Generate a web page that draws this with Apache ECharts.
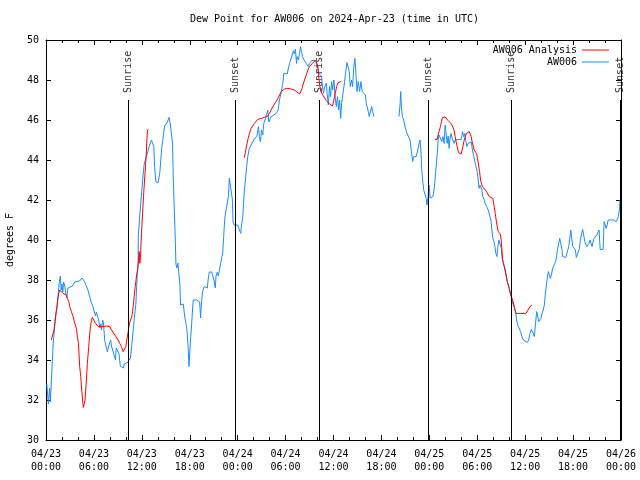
<!DOCTYPE html>
<html><head><meta charset="utf-8">
<script src="https://cdn.jsdelivr.net/npm/echarts@6/dist/echarts.min.js"></script>
<style>html,body{margin:0;padding:0;background:#fff}#c{width:640px;height:480px}</style>
</head><body><div id="c"></div>
<script>
const titleText = 'Dew Point for AW006 on 2024-Apr-23 (time in UTC)';
const yAxisName = 'degrees F';
const xTickLabels = ['04/23\n00:00','04/23\n06:00','04/23\n12:00','04/23\n18:00','04/24\n00:00','04/24\n06:00','04/24\n12:00','04/24\n18:00','04/25\n00:00','04/25\n06:00','04/25\n12:00','04/25\n18:00','04/26\n00:00'];
const seriesNames = ['AW006 Analysis', 'AW006'];
// hours since 04/23 00:00 UTC ; null = missing
const blueTimes = [0.10,0.30,0.45,0.55,0.70,0.80,0.90,1.05,1.20,1.40,1.55,1.70,1.80,1.90,2.00,2.10,2.20,2.35,2.50,2.60,2.75,3.00,3.30,3.60,4.20,4.50,4.65,4.85,5.05,5.25,5.45,5.65,5.85,6.05,6.20,6.30,6.50,6.60,6.75,6.85,6.95,7.10,7.20,7.35,7.50,7.70,7.85,7.95,8.10,8.20,8.35,8.55,8.70,8.80,9.00,9.15,9.30,9.50,9.70,9.80,9.95,10.29,10.58,10.83,11.04,11.25,11.42,11.54,11.56,11.75,11.96,12.17,12.30,12.50,12.67,12.92,13.20,13.30,13.50,13.60,13.76,14.05,14.26,14.47,14.68,14.85,15.10,15.20,15.40,15.56,15.77,15.85,15.93,16.06,16.19,16.27,16.40,16.52,16.69,16.77,16.85,17.02,17.19,17.30,17.44,17.60,17.69,17.82,17.90,17.98,18.10,18.23,18.36,18.44,18.65,18.86,19.07,19.24,19.36,19.45,19.60,19.80,20.04,20.20,20.30,20.45,20.75,20.95,21.04,21.20,21.29,21.46,21.58,21.70,21.87,22.04,22.12,22.25,22.33,22.42,22.62,22.84,22.96,23.17,23.34,23.42,23.55,23.80,24.00,24.20,24.38,24.50,24.63,24.84,24.97,25.13,25.26,25.47,25.68,25.89,26.10,26.40,26.60,26.72,26.85,26.98,27.14,27.27,27.48,27.64,27.77,27.90,28.00,28.19,28.52,28.82,29.07,29.24,29.45,29.55,29.65,29.77,29.99,30.20,30.35,30.49,30.70,30.83,30.99,31.10,31.24,31.37,31.45,31.62,31.74,31.87,32.00,32.12,32.37,32.58,32.84,33.00,33.25,33.75,33.92,34.04,34.17,34.34,34.50,34.60,34.75,34.85,35.10,35.20,35.35,35.50,35.63,35.76,35.90,36.05,36.18,36.35,36.50,36.64,36.77,36.90,37.00,37.18,37.39,37.50,37.68,37.80,37.98,38.10,38.27,38.40,38.52,38.68,38.81,38.94,39.10,39.27,39.43,39.60,39.80,39.99,40.10,40.22,40.35,40.48,40.65,40.78,40.92,41.07,42.5,44.20,44.33,44.42,44.50,44.63,44.80,44.96,45.13,45.30,45.45,45.59,45.76,45.92,46.05,46.17,46.35,46.55,46.72,46.84,46.97,47.05,47.18,47.30,47.45,47.60,47.72,47.85,47.97,48.10,48.27,48.45,48.64,48.81,48.98,49.10,49.22,49.40,49.56,49.70,49.85,49.98,50.10,50.23,50.36,50.48,50.60,50.73,50.85,50.98,51.10,51.25,51.48,51.73,52.00,52.16,52.30,52.45,52.58,52.70,52.85,52.99,53.25,53.40,53.57,53.70,53.85,53.99,54.12,54.24,54.35,54.46,54.58,54.70,54.87,54.99,55.17,55.37,55.58,55.71,55.83,55.96,56.09,56.21,56.34,56.46,56.59,56.71,56.88,57.00,57.13,57.26,57.38,57.51,57.63,57.76,57.88,58.00,58.13,58.26,58.38,58.50,58.68,58.80,58.93,59.06,59.18,59.43,59.60,59.77,60.00,60.27,60.44,60.60,60.77,60.90,61.02,61.15,61.22,61.30,61.44,61.55,61.69,61.85,61.98,62.10,62.27,62.40,62.52,62.65,62.77,62.90,63.02,63.15,63.28,63.40,63.53,63.70,63.82,63.95,64.07,64.20,64.33,64.45,64.58,64.70,64.90,65.08,65.33,65.46,65.59,65.71,65.83,65.96,66.12,66.29,66.41,66.66,66.79,66.91,67.08,67.20,67.33,67.46,67.58,67.71,67.88,68.00,68.13,68.25,68.38,68.50,68.63,68.80,68.96,69.13,69.26,69.39,69.60,69.76,69.89,70.01,70.14,70.26,70.39,70.65,71.06,71.39,71.52,71.68,71.81,71.88,71.95];
const blueValues = [32.8,31.8,32.6,31.9,33.2,34.0,34.8,35.5,36.3,36.7,37.4,38.0,38.2,37.5,37.8,37.4,37.9,37.7,37.3,37.1,37.6,37.6,37.7,37.9,37.95,38.1,38.2,37.9,37.7,37.5,37.2,36.9,36.7,36.4,36.2,36.4,36.4,36.0,35.6,35.8,35.5,36.0,35.8,35.0,34.7,34.4,34.7,34.8,35.0,34.7,34.5,34.6,34.0,34.6,34.6,34.3,33.7,33.6,33.6,33.8,33.9,33.9,34.1,35.1,36.0,36.8,38.25,38.75,40.2,41.3,42.3,43.3,43.8,44.1,44.3,44.67,45.0,45.05,44.67,43.67,42.9,42.87,43.4,44.5,45.2,45.7,45.7,45.9,46.13,45.8,45.7,44.8,43.2,41.6,40.0,38.8,38.6,38.85,38.85,37.75,36.75,36.67,36.8,36.4,36.0,35.67,35.3,34.5,33.67,34.2,35.0,35.75,36.6,37.0,36.97,37.0,37.0,36.9,36.1,36.8,37.4,37.67,37.67,37.6,38.0,38.4,38.4,38.4,38.0,37.6,38.2,38.4,38.2,38.15,38.83,39.17,39.3,40.17,40.75,41.2,41.25,42.17,43.1,43.13,42.0,40.9,40.75,40.67,40.75,40.83,40.33,40.8,41.08,42.5,43.0,43.67,44.17,44.58,44.75,44.8,45.08,45.17,45.67,45.17,44.9,45.5,45.25,45.83,46.08,46.33,46.5,45.9,46.0,46.17,46.25,46.33,46.5,47.0,47.4,47.4,47.83,48.33,48.33,48.3,48.33,48.83,48.92,49.25,49.47,49.3,49.53,48.83,49.17,49.0,49.33,49.67,49.42,49.17,48.97,48.83,48.67,48.83,48.97,48.97,48.97,48.67,48.33,48.33,48.2,47.75,47.33,47.6,47.83,47.33,46.75,47.67,47.17,47.92,47.5,48.0,47.25,46.67,47.17,46.5,47.0,46.08,46.75,47.33,47.9,48.33,48.87,48.83,48.42,47.67,48.0,47.67,48.58,49.08,48.33,47.42,47.92,47.42,47.92,47.42,47.42,47.25,46.83,46.67,46.42,46.17,46.17,46.67,46.42,46.17,null,46.17,46.75,47.42,46.67,46.17,46.0,45.67,45.42,45.25,45.17,45.0,44.42,43.92,44.17,44.1,44.17,44.5,44.83,45.0,44.33,43.5,42.92,42.5,42.4,42.08,41.75,42.2,42.75,42.1,42.0,42.17,42.67,43.5,44.25,45.0,45.25,45.25,44.92,45.17,44.83,45.75,45.3,44.83,45.2,44.58,45.1,45.33,45.1,45.17,44.83,45.0,44.92,45.03,45.03,45.42,45.17,45.33,44.92,44.67,44.83,44.92,44.9,44.5,44.17,43.92,43.67,43.42,43.0,42.58,42.75,42.67,42.5,42.17,42.0,41.83,41.67,41.5,41.42,41.0,40.5,40.08,39.92,39.67,39.33,39.17,39.67,40.0,40.0,39.6,39.08,38.92,38.83,38.42,38.17,37.92,37.75,37.58,37.42,37.17,36.92,36.75,36.58,36.42,36.0,35.75,35.67,35.42,35.17,35.0,34.93,34.88,35.0,35.33,35.53,35.53,35.33,35.17,35.1,35.83,36.42,36.25,35.92,35.9,36.08,36.33,36.5,36.75,37.25,37.75,38.08,38.42,38.33,38.08,38.25,38.5,38.67,38.7,38.92,39.25,39.58,39.83,40.08,40.0,39.58,39.17,39.13,39.13,39.13,39.67,40.08,40.5,40.08,39.67,39.58,39.5,39.13,39.13,39.58,40.0,40.33,40.53,40.25,39.92,39.83,39.67,39.58,39.83,40.0,39.83,39.67,39.92,40.08,40.17,40.25,40.33,40.5,39.53,39.53,39.53,40.92,40.83,40.58,40.75,41.0,41.0,41.0,40.92,41.0,41.17,41.58,42.0,41.7];
const redTimes = [0.67,0.88,1.00,1.13,1.30,1.46,1.59,1.72,1.93,2.13,2.55,2.68,2.85,2.97,3.18,3.39,3.60,3.81,3.93,4.06,4.22,4.35,4.47,4.60,4.68,4.80,4.89,5.06,5.18,5.35,5.52,5.69,5.81,6.15,6.52,6.73,7.15,7.57,7.99,8.20,8.62,8.82,9.03,9.24,9.45,9.66,9.83,10.00,10.12,10.29,10.41,10.58,10.75,10.92,11.04,11.17,11.25,11.33,11.46,11.58,11.67,11.75,11.84,11.96,12.09,12.21,12.34,12.46,12.55,12.63,12.71,12.84,18.0,24.84,25.05,25.26,25.47,25.68,26.10,26.51,26.72,27.35,27.77,27.98,28.19,28.40,28.61,28.82,29.03,29.24,29.45,29.65,29.86,30.28,30.70,31.12,31.33,31.74,32.00,32.17,32.37,32.58,32.79,33.00,33.21,33.42,33.75,33.92,34.04,34.17,34.30,34.42,34.59,34.75,34.92,35.09,35.30,35.51,35.72,35.88,36.05,36.22,36.39,36.55,36.85,36.97,42.5,48.68,48.97,49.10,49.22,49.39,49.52,49.64,49.81,49.98,50.15,50.36,50.56,50.78,50.98,51.10,51.23,51.35,51.48,51.65,51.82,51.98,52.11,52.24,52.37,52.49,52.66,52.82,52.99,53.11,53.24,53.36,53.49,53.61,53.78,53.91,54.03,54.16,54.29,54.41,54.58,54.74,54.95,55.17,55.33,55.50,55.67,55.95,56.12,56.25,56.37,56.50,56.63,56.75,56.88,57.00,57.09,57.17,57.26,57.38,57.51,57.63,57.76,57.88,58.00,58.13,58.26,58.43,58.60,58.72,58.85,60.10,60.35,60.60,60.85];
const redValues = [35.0,35.0,35.5,35.92,36.42,37.0,37.33,37.5,37.45,37.33,37.25,37.08,36.92,36.67,36.42,36.17,35.83,35.58,35.17,34.83,33.67,33.17,32.5,31.92,31.63,31.63,32.0,33.0,33.83,34.67,35.5,36.0,36.13,35.87,35.67,35.58,35.67,35.7,35.67,35.5,35.25,35.17,35.0,34.83,34.67,34.42,34.42,34.67,35.0,35.4,35.75,36.0,36.17,36.67,37.17,37.67,37.92,38.2,38.5,39.0,39.42,38.83,39.25,40.33,41.33,42.17,43.0,43.67,44.25,45.0,45.5,45.53,null,44.12,44.58,45.0,45.33,45.58,45.83,46.03,46.08,46.13,46.2,46.33,46.5,46.67,46.8,46.92,47.08,47.25,47.42,47.5,47.55,47.58,47.55,47.5,47.42,47.3,47.5,47.75,48.0,48.25,48.5,48.67,48.75,48.87,48.97,48.83,48.58,48.08,47.67,47.42,47.3,47.25,47.08,46.97,46.87,46.8,46.73,46.7,47.0,47.33,47.67,47.85,47.92,47.95,null,45.03,45.03,45.25,45.42,45.67,45.92,46.13,46.2,46.15,46.05,45.97,45.87,45.8,45.7,45.5,45.17,44.92,44.67,44.37,44.3,44.3,44.5,44.75,45.0,45.17,45.33,45.42,45.42,45.33,45.17,44.92,44.7,44.5,44.47,44.33,44.08,43.75,43.42,43.0,42.75,42.63,42.58,42.42,42.33,42.17,42.08,42.08,41.67,41.33,41.0,40.67,40.42,40.33,40.3,40.0,39.5,39.0,38.83,38.8,38.5,38.2,37.92,37.75,37.58,37.33,37.17,37.0,36.75,36.5,36.33,36.33,36.5,36.67,36.75];
const sunTimes = [10.3, 23.75, 34.25, 47.9, 58.27, 71.93];
const sunLabels = ['Sunrise', 'Sunset', 'Sunrise', 'Sunset', 'Sunrise', 'Sunset'];
const sunLineTop = 47;

const FONT = "'DejaVu Sans Mono', monospace";
const pairs = (ts, vs) => ts.map((t, i) => [t, vs[i] === null ? '-' : vs[i]]);

const chart = echarts.init(document.getElementById('c'), null, {renderer: 'canvas'});
const axisCommon = {
  min: 0, max: 72, interval: 6,
  axisLine: {show: true, onZero: false, lineStyle: {color: '#000', width: 1}},
  axisTick: {show: true, inside: true, length: 5, lineStyle: {color: '#000'}},
  minorTick: {show: true, splitNumber: 3, length: 3, lineStyle: {color: '#000'}},
  splitLine: {show: false}, minorSplitLine: {show: false}
};
const yCommon = {
  type: 'value', min: 30, max: 50, interval: 2,
  axisLine: {show: true, onZero: false, lineStyle: {color: '#000', width: 1}},
  axisTick: {show: true, inside: true, length: 5, lineStyle: {color: '#000'}},
  splitLine: {show: false}
};
chart.setOption({
  animation: false,
  backgroundColor: '#fff',
  title: {
    text: titleText, left: 190, top: 14, padding: 0,
    textStyle: {fontFamily: FONT, fontSize: 10, fontWeight: 'normal', color: '#000'}
  },
  legend: {
    data: seriesNames, orient: 'vertical', right: 31, top: 44, padding: 0,
    align: 'right', icon: 'rect', itemWidth: 27, itemHeight: 1, itemGap: 0,
    textStyle: {fontFamily: FONT, fontSize: 10, color: '#000', lineHeight: 12}
  },
  grid: {left: 46, right: 19, top: 40, bottom: 40, containLabel: false, outerBoundsMode: 'none'},
  xAxis: [
    Object.assign({type: 'value', position: 'bottom',
      axisLabel: {show: true, color: '#000', fontFamily: FONT, fontSize: 10, lineHeight: 13, margin: 8,
        formatter: v => xTickLabels[Math.round(v / 6)]}}, axisCommon),
    Object.assign({type: 'value', position: 'top', axisLabel: {show: false}}, axisCommon)
  ],
  yAxis: [
    Object.assign({position: 'left', name: yAxisName, nameLocation: 'middle', nameGap: 31,
      nameTextStyle: {fontFamily: FONT, fontSize: 10, color: '#000'},
      axisLabel: {show: true, color: '#000', fontFamily: FONT, fontSize: 10, margin: 7}}, yCommon),
    Object.assign({position: 'right', axisLabel: {show: false}}, yCommon)
  ],
  series: [
    {
      name: 'sun', type: 'scatter', xAxisIndex: 0, yAxisIndex: 0, silent: true,
      symbol: 'circle', symbolSize: 0.1, itemStyle: {color: 'rgba(0,0,0,0)'},
      data: sunTimes.map((t, i) => ({value: [t, sunLineTop], name: sunLabels[i]})),
      label: {show: true, formatter: '{b}', position: 'top', distance: 7, rotate: 90,
        align: 'left', verticalAlign: 'middle', color: '#000', fontFamily: FONT, fontSize: 10},
      markLine: {
        silent: true, symbol: ['none', 'none'], label: {show: false},
        lineStyle: {color: '#000', width: 1, type: 'solid'},
        emphasis: {disabled: true},
        data: sunTimes.map(t => [{coord: [t, 30]}, {coord: [t, sunLineTop]}])
      },
      z: 1
    },
    {
      name: seriesNames[1], type: 'line', xAxisIndex: 0, yAxisIndex: 0,
      data: pairs(blueTimes, blueValues), symbol: 'none', showSymbol: false,
      connectNulls: false, color: '#1a8cff', itemStyle: {color: '#1a8cff'},
      lineStyle: {color: '#1a8cff', width: 1}, z: 2
    },
    {
      name: seriesNames[0], type: 'line', xAxisIndex: 0, yAxisIndex: 0,
      data: pairs(redTimes, redValues), symbol: 'none', showSymbol: false,
      connectNulls: false, color: '#ff0000', itemStyle: {color: '#ff0000'},
      lineStyle: {color: '#ff0000', width: 1}, z: 3
    }
  ]
});
</script></body></html>
